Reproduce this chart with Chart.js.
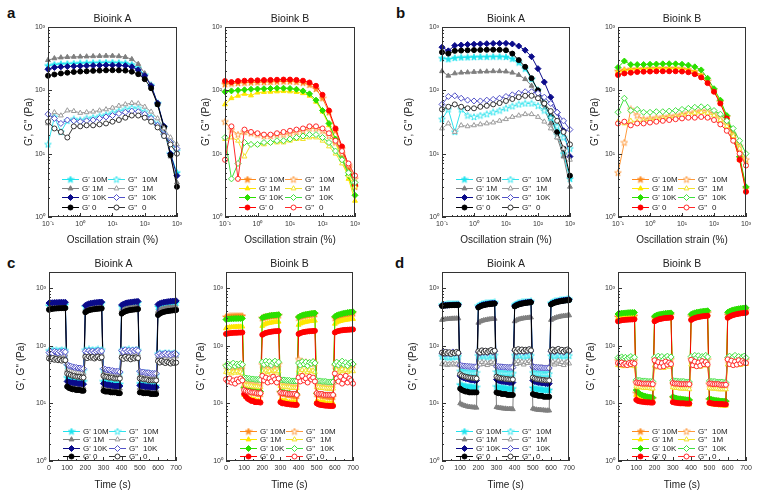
<!DOCTYPE html>
<html>
<head>
<meta charset="utf-8">
<script src="https://cdn.jsdelivr.net/npm/chart.js@4.4.0/dist/chart.umd.min.js"></script>
<style>
  body { margin: 0; background: #fff; width: 762px; height: 495px; position: relative; overflow: hidden;
         font-family: "Liberation Sans", Arial, sans-serif; color: #222; }
  canvas { position: absolute; }
  .letter { position: absolute; font-weight: bold; font-size: 15px; line-height: 15px; color: #111; }
  .ttl { position: absolute; font-size: 10.5px; line-height: 12px; text-align: center; width: 130px; color: #222; }
</style>
</head>
<body>
<div class="letter" style="left:7px;top:5px">a</div>
<div class="letter" style="left:396px;top:5px">b</div>
<div class="letter" style="left:7px;top:255px">c</div>
<div class="letter" style="left:395px;top:255px">d</div>
<script>
// ---- tick labels ----
const strainTickVals = [0.1, 1, 10, 100, 1000];
const strainTickLabels = ['10⁻¹', '10⁰', '10¹', '10²', '10³'];
const modTickVals = [1, 10, 100, 1000];
const modTickLabels = ['10⁰', '10¹', '10²', '10³'];
const timeTickVals = [0, 100, 200, 300, 400, 500, 600, 700];
const timeTickLabels = ['0', '100', '200', '300', '400', '500', '600', '700'];

const seriesNames = ['10M', '1M', '10K', '0'];

// ---- strain sweep (a, b) ----
const strainX = [0.1,0.158,0.251,0.398,0.631,1,1.58,2.51,3.98,6.31,10,15.8,25.1,39.8,63.1,100,158,251,398,631,1000];

const aA_Gp_10M  = [245,255,260,262,265,268,270,272,273,274,274,272,268,255,225,175,120,62,26,10,5];
const aA_Gp_1M   = [300,320,330,335,338,340,342,345,348,350,350,345,335,310,260,185,120,60,25,9,3.5];
const aA_Gp_10K  = [215,230,235,238,240,242,244,246,248,250,250,248,245,235,210,170,118,63,27,10,4.5];
const aA_Gp_0    = [170,178,185,190,195,198,200,203,205,207,208,207,205,197,180,150,108,60,26,9.5,3];
const aA_Gpp_10M = [14,38,22,33,35,34,36,37,39,41,44,47,50,53,52,46,38,29,20,15,11];
const aA_Gpp_1M  = [30,45,40,48,47,44,45,46,48,50,53,57,60,63,62,55,46,36,25,18,14];
const aA_Gpp_10K = [42,36,30,34,33,32,33,34,36,38,40,43,45,47,46,42,36,28,20,15,12];
const aA_Gpp_0   = [32,25,22,18,27,27,28,28,29,30,32,34,37,40,40,37,32,26,19,14,10];

const aB_Gp_10M  = [125,128,130,132,133,134,135,136,137,138,138,136,132,122,105,75,45,23,12,6,3];
const aB_Gp_1M   = [60,75,82,88,83,92,94,95,96,97,96,94,90,82,66,46,28,15,8,4,1.8];
const aB_Gp_10K  = [95,98,100,102,104,105,106,107,108,108,107,104,98,88,70,48,30,17,9,4.5,2.2];
const aB_Gp_0    = [140,135,140,142,143,144,145,146,147,148,148,146,142,133,118,85,48,25,13,6.5,3.2];
const aB_Gpp_10M = [32,24,20,22,21,20,19,19,20,20,21,22,23,25,25,23,19,15,10,6.5,4];
const aB_Gpp_1M  = [17,18,16,9,14,14,14,15,15,15,16,17,17,18,18,16,13,10,7,4.5,3];
const aB_Gpp_10K = [18,4,7,15,14,14,15,15,16,16,17,18,19,20,20,18,15,11,8,5,3.5];
const aB_Gpp_0   = [8,27,4,24,22,21,20,20,21,22,23,24,25,27,27,25,21,16,11,7,4.5];

const bA_Gp_10M  = [320,310,325,330,332,335,337,338,340,340,336,315,275,220,150,100,62,37,20,10,4];
const bA_Gp_1M   = [200,170,185,190,192,195,197,198,200,200,198,190,175,150,118,80,50,30,18,9,3];
const bA_Gp_10K  = [480,420,510,520,530,535,540,545,550,552,552,540,500,430,340,220,135,78,45,23,9];
const bA_Gp_0    = [400,380,420,425,430,432,435,437,438,436,430,380,300,235,155,100,62,38,22,12,4.5];
const bA_Gpp_10M = [35,50,22,50,40,38,40,42,45,48,52,56,60,62,62,57,48,37,27,18,12];
const bA_Gpp_1M  = [25,30,22,28,27,28,29,30,31,33,35,38,40,42,42,38,32,25,18,12,8];
const bA_Gpp_10K = [60,80,82,75,70,68,68,70,72,75,80,85,90,95,95,90,78,62,45,33,24];
const bA_Gpp_0   = [50,55,60,55,52,52,55,57,60,63,68,73,78,82,82,75,62,47,33,22,14];

const bB_Gp_10M  = [200,210,215,218,220,222,223,224,224,223,220,213,198,175,140,100,66,38,19,8.5,2.8];
const bB_Gp_1M   = [195,205,212,215,218,220,221,222,222,221,218,210,195,170,135,98,64,37,18,8,2.6];
const bB_Gp_10K  = [230,290,255,255,256,258,260,262,263,262,258,250,235,210,155,106,70,40,20,9,3];
const bB_Gp_0    = [175,185,190,195,197,198,200,200,200,200,198,193,180,160,130,95,62,36,18,8,2.5];
const bB_Gpp_10M = [5,15,50,40,35,36,37,38,39,40,42,44,46,48,47,43,37,29,20,13,8];
const bB_Gpp_1M  = [32,30,33,32,33,34,35,36,37,38,40,42,44,45,44,40,34,27,19,12,7];
const bB_Gpp_10K = [45,75,48,50,45,45,46,46,47,48,50,52,54,55,54,48,42,33,25,16,10];
const bB_Gpp_0   = [30,32,28,30,30,31,32,33,34,35,36,37,37,38,37,34,29,23,16,10,6.5];

// ---- time sweep (c, d) ----
const timeX = [0,10,20,30,40,50,60,70,80,90,100,110,120,130,140,150,160,170,180,190,200,210,220,230,240,250,260,270,280,290,300,310,320,330,340,350,360,370,380,390,400,410,420,430,440,450,460,470,480,490,500,510,520,530,540,550,560,570,580,590,600,610,620,630,640,650,660,670,680,690,700];

const cA_Gp_10M = [490,495,500,502,505,507,508,510,511,512, 28,27,26.5,26,25.5,25,25,24.5,24.5,24, 470,490,505,515,522,528,532,536,540,543, 24,23.5,23,22.5,22.5,22,22,21.5,21.5,21.5, 475,495,510,520,528,535,540,545,548,551, 22,21.5,21,21,20.5,20.5,20.5,20,20,20, 470,490,505,515,523,530,535,540,544,548,551];
const cA_Gp_1M  = [460,465,468,470,470,471,472,472,473,473, 21,20.5,20.5,20,20,19.5,19.5,19.5,19,19, 420,440,450,458,463,467,470,472,474,476, 19.5,19,19,18.5,18.5,18.5,18,18,18,18, 410,430,442,450,456,460,464,467,469,471, 18.5,18,18,18,17.5,17.5,17.5,17.5,17,17, 400,420,432,440,446,451,455,458,461,463,465];
const cA_Gp_10K = [550,555,558,560,562,563,565,566,567,568, 24,23.5,23,23,22.5,22.5,22,22,22,21.5, 500,520,535,545,552,558,562,566,570,573, 22,21.5,21,21,20.5,20.5,20,20,20,20, 510,530,545,555,563,570,575,580,584,588, 20.5,20,20,19.5,19.5,19.5,19,19,19,19, 520,540,555,565,573,580,585,590,594,597,600];
const cA_Gp_0   = [420,430,436,440,443,445,447,448,449,450, 19.5,18.5,18,17.5,17.5,17,17,17,16.5,16.5, 380,400,412,420,426,431,435,438,441,443, 16.5,16,16,16,15.5,15.5,15.5,15.5,15,15, 360,380,394,404,411,417,421,425,428,431, 15.5,15.5,15,15,15,15,14.5,14.5,14.5,14.5, 340,360,374,384,391,397,402,406,409,412,415];
const cA_Gpp_10M = [82,80,84,81,83,80,82,84,81,83, 45,43,42,41,40,39,39,38,38,37, 84,80,86,82,85,81,84,86,82,85, 38,37,36,36,35,35,34,34,34,33, 82,85,80,84,86,81,84,82,85,83, 35,34,34,33,33,32,32,32,31,31, 72,74,71,73,75,72,74,71,73,74,72];
const cA_Gpp_1M  = [70,68,71,69,72,68,70,71,69,70, 38,37,36,35,35,34,34,33,33,33, 72,69,73,70,72,68,71,73,70,72, 33,32,32,31,31,31,30,30,30,30, 70,73,68,71,74,69,72,70,73,71, 30,30,29,29,29,28,28,28,28,28, 65,67,64,66,68,65,67,64,66,67,65];
const cA_Gpp_10K = [76,79,74,80,77,75,79,76,80,78, 47,45,44,43,42,42,41,41,40,40, 80,76,82,78,81,77,80,83,79,81, 40,39,38,38,37,37,36,36,36,35, 82,78,85,80,83,79,84,81,85,82, 36,35,35,34,34,34,33,33,33,33, 70,73,69,72,74,70,73,69,72,73,71];
const cA_Gpp_0   = [60,58,61,57,59,56,58,55,57,56, 33,32,31,30,30,29,29,29,28,28, 64,61,65,62,64,60,63,65,61,63, 30,29,29,28,28,28,27,27,27,27, 62,59,64,60,63,58,62,60,63,61, 27,27,26,26,26,25,25,25,25,25, 54,51,55,52,50,53,51,49,52,50,51];

const cB_Gp_10M = [315,320,322,324,325,326,326,327,327,328, 18,17,16.5,16,15.5,15.5,15,15,14.5,14.5, 300,310,316,320,324,327,330,332,334,336, 15.5,15,14.5,14.5,14,14,14,13.5,13.5,13.5, 305,318,326,332,337,341,345,348,351,354, 14.5,14,14,13.5,13.5,13.5,13,13,13,13, 300,315,325,333,340,345,350,354,358,361,364];
const cB_Gp_1M  = [200,205,208,210,211,212,213,214,214,215, 14,13,12.5,12,12,11.5,11.5,11,11,11, 220,232,240,245,249,252,255,257,259,261, 11.5,11,11,11,10.5,10.5,10.5,10.5,10.5,10, 230,242,250,255,259,263,266,268,270,272, 11,10.5,10.5,10.5,10.5,10,10,10,10,10, 240,253,262,268,273,277,281,284,287,289,291];
const cB_Gp_10K = [285,290,292,294,295,296,296,297,297,298, 19,18,17.5,17,17,16.5,16.5,16,16,16, 305,315,322,328,332,336,339,341,343,345, 16,15.5,15.5,15,15,15,14.5,14.5,14.5,14.5, 315,328,337,344,349,354,358,362,365,368, 15,14.5,14.5,14.5,14,14,14,14,14,14, 320,335,345,353,360,366,371,376,380,384,387];
const cB_Gp_0   = [160,163,165,166,167,168,168,169,169,170, 14.5,13,12,11.5,11,11,10.5,10.5,10.5,10.3, 155,162,167,170,173,175,177,178,179,180, 10.5,10,10,9.8,9.7,9.6,9.5,9.5,9.4,9.4, 160,166,170,173,175,177,178,179,180,181, 10,9.6,9.4,9.3,9.2,9.1,9.1,9,9,9, 170,176,180,183,185,187,188,189,190,191,192];
const cB_Gpp_10M = [45,43,46,44,42,45,43,46,44,45, 24,23.5,23,23,22.5,22.5,22,22,22,22, 47,44,49,45,48,43,47,50,45,48, 23,22.5,22.5,22,22,22,21.5,21.5,21.5,21.5, 58,50,53,48,52,47,51,49,52,50, 22,22,21.5,21.5,21.5,21,21,21,21,21, 45,48,44,47,49,45,48,44,47,48,46];
const cB_Gpp_1M  = [35,34,36,33,35,34,36,34,35,33, 21,20.5,20.5,20,20,19.5,19.5,19.5,19,19, 36,34,37,35,36,33,36,37,34,36, 20,19.5,19.5,19,19,19,18.5,18.5,18.5,18.5, 37,35,38,34,37,35,38,36,37,35, 19,19,18.5,18.5,18.5,18,18,18,18,18, 36,38,35,37,39,36,38,35,37,38,36];
const cB_Gpp_10K = [45,48,43,47,50,44,48,46,49,47, 28,27.5,27,27,26.5,26.5,26,26,26,25.5, 52,47,54,49,53,46,51,54,48,52, 26,25.5,25.5,25,25,25,24.5,24.5,24.5,24.5, 50,46,53,48,52,45,51,49,53,50, 25,24.5,24.5,24,24,24,23.5,23.5,23.5,23.5, 48,52,46,50,54,47,51,45,50,52,48];
const cB_Gpp_0   = [26,24,27,23,25,22,26,24,27,25, 17,16.5,16,16,15.5,15.5,15.5,15,15,15, 30,25,28,23,27,24,29,26,23,27, 15.5,15,15,15,14.5,14.5,14.5,14.5,14.5,14, 28,24,30,25,27,23,29,26,28,24, 15,14.5,14.5,14.5,14,14,14,14,14,14, 33,27,24,29,22,26,30,23,27,25,22];

const dA_Gp_10M = [510,515,518,520,522,523,524,525,526,527, 21,20.5,20,20,19.5,19.5,19.5,19,19,19, 490,510,525,535,542,548,553,557,560,563, 19.5,19,19,18.5,18.5,18.5,18,18,18,18, 510,530,545,555,563,570,575,580,584,588, 18.5,18,18,17.5,17.5,17.5,17,17,17,17, 550,570,585,597,606,614,621,627,632,636,640];
const dA_Gp_1M  = [280,285,288,290,292,294,295,296,297,298, 10,9.5,9.2,9,8.8,8.7,8.6,8.5,8.5,8.4, 250,262,270,276,280,284,287,289,291,293, 8.6,8.4,8.3,8.2,8.1,8.1,8,8,8,7.9, 265,277,285,291,295,299,302,305,307,309, 8.1,7.9,7.8,7.7,7.7,7.6,7.6,7.5,7.5,7.5, 280,293,302,309,315,320,324,328,331,334,336];
const dA_Gp_10K = [495,500,503,505,507,508,510,511,512,513, 30,28.5,27.5,27,26.5,26,25.5,25.5,25,25, 470,490,505,515,523,530,535,540,544,548, 26,25,24.5,24,24,23.5,23.5,23,23,23, 490,510,525,536,545,553,560,566,571,575, 25,24,23.5,23,23,22.5,22.5,22,22,22, 530,550,566,578,588,597,605,612,618,623,628];
const dA_Gp_0   = [490,495,498,500,502,504,505,506,507,508, 18,17,16.5,16,16,15.5,15.5,15.5,15.5,15.5, 460,480,495,505,513,520,525,530,534,538, 15.5,15,15,14.5,14.5,14.5,14,14,14,14, 480,500,515,527,536,544,551,557,562,566, 14.5,14,14,13.5,13.5,13.5,13,13,13,13, 520,540,556,568,578,587,595,602,608,613,618];
const dA_Gpp_10M = [65,63,66,64,62,65,63,66,64,65, 36,35.5,35,35,34.5,34.5,34,34,34,34, 67,64,69,65,68,63,67,70,65,68, 35,34.5,34,34,34,33.5,33.5,33.5,33,33, 68,65,70,66,69,64,68,66,70,67, 34,33.5,33.5,33,33,33,32.5,32.5,32.5,32.5, 66,69,65,68,70,66,69,65,68,69,67];
const dA_Gpp_1M  = [48,47,49,46,48,47,49,47,48,46, 45,44.5,44,44,43.5,43.5,43,43,43,43, 50,47,52,48,51,46,50,52,48,51, 44,43.5,43.5,43,43,43,42.5,42.5,42.5,42.5, 52,48,54,50,53,47,52,50,54,51, 43,42.5,42.5,42,42,42,41.5,41.5,41.5,41.5, 49,53,47,51,55,48,52,46,51,53,49];
const dA_Gpp_10K = [74,77,72,76,73,75,78,74,76,73, 46,45,44.5,44,44,43.5,43.5,43,43,43, 78,74,81,76,80,75,79,82,77,80, 44,43.5,43,43,42.5,42.5,42,42,42,42, 82,77,85,79,84,78,83,80,85,81, 43,42.5,42,42,41.5,41.5,41,41,41,41, 80,84,78,82,86,79,83,77,82,84,80];
const dA_Gpp_0   = [76,73,78,74,77,72,76,74,78,75, 32,30.5,29.5,29,28.5,28,28,27.5,27.5,27, 80,76,83,78,82,77,81,84,79,82, 29,28,27.5,27,27,26.5,26.5,26,26,26, 84,79,87,81,86,80,85,82,87,83, 28,27,26.5,26,26,25.5,25.5,25,25,25, 82,86,80,84,88,81,85,79,84,86,82];

const dB_Gp_10M = [315,318,320,322,323,324,325,326,326,327, 15,14,13.5,13,13,12.5,12.5,12.5,12,12, 300,312,320,326,330,334,337,340,342,344, 12.5,12,12,11.5,11.5,11.5,11.5,11,11,11, 320,333,342,349,354,359,363,366,369,372, 11.5,11.5,11,11,11,11,10.5,10.5,10.5,10.5, 340,355,366,375,382,388,393,397,401,404,407];
const dB_Gp_1M  = [300,305,308,310,311,312,313,314,314,315, 14,13,12.5,12,11.5,11.5,11,11,11,11, 290,300,307,312,316,319,322,324,326,328, 11,10.5,10.5,10,10,10,9.8,9.7,9.6,9.5, 300,312,320,326,331,335,338,341,343,345, 10,9.8,9.6,9.5,9.4,9.3,9.2,9.2,9.1,9.1, 320,334,344,352,358,363,367,371,374,377,380];
const dB_Gp_10K = [355,362,366,369,371,373,375,376,377,378, 17,15.5,14.5,14,13.5,13.3,13,12.8,12.7,12.6, 325,337,345,351,356,360,364,367,369,371, 13,12.5,12.3,12,12,11.8,11.7,11.6,11.5,11.5, 350,363,372,379,385,390,394,398,401,404, 12,11.7,11.5,11.3,11.2,11.1,11,11,10.9,10.9, 380,396,408,418,426,433,439,444,448,452,455];
const dB_Gp_0   = [265,272,276,279,281,283,284,285,286,287, 11.5,11,10.8,10.7,10.6,10.5,10.4,10.4,10.3,10.3, 265,277,285,291,295,299,302,304,306,308, 10.5,10.3,10.2,10.1,10,10,10,9.9,9.9,9.9, 280,293,302,309,314,319,323,326,329,331, 10.2,10,9.9,9.8,9.8,9.7,9.7,9.7,9.6,9.6, 305,320,331,340,347,353,358,363,367,370,373];
const dB_Gpp_10M = [55,53,56,54,52,55,53,56,54,55, 23,22.5,22.5,22,22,22,22,21.5,21.5,21.5, 57,54,59,55,58,53,57,60,55,58, 22,22,21.5,21.5,21.5,21.5,21,21,21,21, 58,55,60,56,59,54,58,56,60,57, 21.5,21.5,21,21,21,21,21,20.5,20.5,20.5, 56,59,55,58,60,56,59,55,58,59,57];
const dB_Gpp_1M  = [46,45,47,44,46,45,47,45,46,44, 19.5,19,19,19,18.5,18.5,18.5,18.5,18,18, 45,42,47,43,46,41,45,47,43,46, 19,18.5,18.5,18.5,18,18,18,18,18,17.5, 47,44,49,45,48,43,47,45,49,46, 18.5,18,18,18,18,17.5,17.5,17.5,17.5,17.5, 47,50,46,49,51,47,50,46,49,50,48];
const dB_Gpp_10K = [62,60,64,61,63,59,62,65,61,63, 25.5,25,25,24.5,24.5,24.5,24,24,24,24, 63,59,66,61,65,58,63,66,60,64, 25,24.5,24.5,24,24,24,24,23.5,23.5,23.5, 65,60,68,62,67,59,65,63,68,64, 24.5,24,24,24,23.5,23.5,23.5,23.5,23,23, 62,66,60,64,68,61,65,59,64,66,62];
const dB_Gpp_0   = [50,48,51,47,49,46,50,48,51,49, 23,22.5,22.5,22,22,22,22,22,21.5,21.5, 56,45,52,43,50,44,53,47,51,48, 22.5,22,22,22,21.5,21.5,21.5,21.5,21.5,21.5, 57,46,53,44,51,45,54,48,52,47, 22,22,21.5,21.5,21.5,21.5,21,21,21,21, 58,48,55,46,53,47,56,49,54,51,50];

// ---- styles ----
const colorsA_Gp  = ['#1fe3ee', '#7f7f7f', '#0b0b8a', '#000000'];
const colorsA_Gpp = ['#30e4ee', '#9a9a9a', '#5252c8', '#333333'];
const colorsB_Gp  = ['#ff8a1e', '#ffe600', '#2bdf00', '#ff0000'];
const colorsB_Gpp = ['#ff9a3c', '#f2e22a', '#3fe03f', '#ff2a2a'];
const markerRadius = [3, 2.8, 3, 2.5];
const FONT = '"Liberation Sans", Arial, sans-serif';

function starImg(color, open) {
  const c = document.createElement('canvas');
  c.width = c.height = 8;
  const g = c.getContext('2d');
  g.beginPath();
  for (let k = 0; k < 10; k++) {
    const r = k % 2 ? 1.4 : 3.5;
    const a = -Math.PI / 2 + k * Math.PI / 5;
    g.lineTo(4 + r * Math.cos(a), 4.2 + r * Math.sin(a));
  }
  g.closePath();
  g.fillStyle = open ? '#fff' : color;
  g.fill();
  g.strokeStyle = color;
  g.lineWidth = 0.9;
  g.stroke();
  return c;
}

function markerFor(i, color, open) {
  if (i === 0) return starImg(color, open);
  return ['triangle', 'rectRot', 'circle'][i - 1];
}

// frame + inward ticks like the original plots
const frameTicks = {
  id: 'frameTicks',
  afterDraw(chart) {
    const { ctx, chartArea: a, scales: { x, y } } = chart;
    ctx.save();
    ctx.strokeStyle = '#333';
    ctx.lineWidth = 1;
    ctx.strokeRect(Math.round(a.left) + 0.5, Math.round(a.top) + 0.5,
                   Math.round(a.right - a.left) - 1, Math.round(a.bottom - a.top) - 1);
    const tick = (px, len, horiz) => {
      ctx.beginPath();
      if (horiz) { ctx.moveTo(Math.round(px) + 0.5, a.bottom); ctx.lineTo(Math.round(px) + 0.5, a.bottom - len); }
      else { ctx.moveTo(a.left, Math.round(px) + 0.5); ctx.lineTo(a.left + len, Math.round(px) + 0.5); }
      ctx.stroke();
    };
    const logTicks = (s, horiz) => {
      for (let k = Math.floor(Math.log10(s.min)); k <= Math.ceil(Math.log10(s.max)); k++) {
        for (let m = 1; m < 10; m++) {
          const v = m * Math.pow(10, k);
          if (v < s.min * 0.999 || v > s.max * 1.001) continue;
          tick(s.getPixelForValue(v), m === 1 ? 4 : 2, horiz);
        }
      }
    };
    if (x.type === 'logarithmic') logTicks(x, true);
    else for (let v = x.min; v <= x.max; v += 50) tick(x.getPixelForValue(v), v % 100 === 0 ? 4 : 2, true);
    logTicks(y, false);
    ctx.restore();
  }
};

// legend in two columns inside the plot
const insetLegend = {
  id: 'insetLegend',
  afterDraw(chart, args, opts) {
    const { ctx, chartArea: a } = chart;
    ctx.save();
    ctx.font = '8px ' + FONT;
    ctx.textBaseline = 'middle';
    chart.data.datasets.forEach((d, i) => {
      const col = i < 4 ? 0 : 1;
      const y = Math.round(a.bottom - opts.rows[i % 4]) + 0.5;
      const x0 = a.left + (col ? 60 : 14);
      ctx.strokeStyle = d.borderColor;
      ctx.lineWidth = 1;
      ctx.beginPath(); ctx.moveTo(x0, y); ctx.lineTo(x0 + 17, y); ctx.stroke();
      ctx.fillStyle = d.pointBackgroundColor;
      Chart.helpers.drawPoint(ctx, { pointStyle: d.pointStyle, radius: d.pointRadius, borderWidth: 1, rotation: 0 }, x0 + 8.5, y);
      ctx.fillStyle = '#222';
      ctx.fillText(col ? 'G"' : "G'", x0 + 20, y);
      ctx.fillText(seriesNames[i % 4], x0 + (col ? 34 : 30), y);
    });
    ctx.restore();
  }
};

const panels = [
  { L: 0,   T: 0,   W: 185, H: 250, PL: 48,  PT: 27,  PR: 177, PB: 217, YT: 29,  kind: 'strain', ink: 'A', title: 'Bioink A',
    gp: [aA_Gp_10M, aA_Gp_1M, aA_Gp_10K, aA_Gp_0], gpp: [aA_Gpp_10M, aA_Gpp_1M, aA_Gpp_10K, aA_Gpp_0] },
  { L: 185, T: 0,   W: 185, H: 250, PL: 225, PT: 27,  PR: 355, PB: 217, YT: 206, kind: 'strain', ink: 'B', title: 'Bioink B',
    gp: [aB_Gp_10M, aB_Gp_1M, aB_Gp_10K, aB_Gp_0], gpp: [aB_Gpp_10M, aB_Gpp_1M, aB_Gpp_10K, aB_Gpp_0] },
  { L: 380, T: 0,   W: 198, H: 250, PL: 442, PT: 27,  PR: 570, PB: 217, YT: 409, kind: 'strain', ink: 'A', title: 'Bioink A',
    gp: [bA_Gp_10M, bA_Gp_1M, bA_Gp_10K, bA_Gp_0], gpp: [bA_Gpp_10M, bA_Gpp_1M, bA_Gpp_10K, bA_Gpp_0] },
  { L: 578, T: 0,   W: 184, H: 250, PL: 618, PT: 27,  PR: 746, PB: 217, YT: 595, kind: 'strain', ink: 'B', title: 'Bioink B',
    gp: [bB_Gp_10M, bB_Gp_1M, bB_Gp_10K, bB_Gp_0], gpp: [bB_Gpp_10M, bB_Gpp_1M, bB_Gpp_10K, bB_Gpp_0] },
  { L: 0,   T: 250, W: 185, H: 245, PL: 49,  PT: 272, PR: 178, PB: 461, YT: 21,  kind: 'time', ink: 'A', title: 'Bioink A',
    gp: [cA_Gp_10M, cA_Gp_1M, cA_Gp_10K, cA_Gp_0], gpp: [cA_Gpp_10M, cA_Gpp_1M, cA_Gpp_10K, cA_Gpp_0] },
  { L: 185, T: 250, W: 185, H: 245, PL: 226, PT: 272, PR: 353, PB: 461, YT: 201, kind: 'time', ink: 'B', title: 'Bioink B',
    gp: [cB_Gp_10M, cB_Gp_1M, cB_Gp_10K, cB_Gp_0], gpp: [cB_Gpp_10M, cB_Gpp_1M, cB_Gpp_10K, cB_Gpp_0] },
  { L: 380, T: 250, W: 198, H: 245, PL: 442, PT: 272, PR: 570, PB: 461, YT: 413, kind: 'time', ink: 'A', title: 'Bioink A',
    gp: [dA_Gp_10M, dA_Gp_1M, dA_Gp_10K, dA_Gp_0], gpp: [dA_Gpp_10M, dA_Gpp_1M, dA_Gpp_10K, dA_Gpp_0] },
  { L: 578, T: 250, W: 184, H: 245, PL: 618, PT: 272, PR: 746, PB: 461, YT: 591, kind: 'time', ink: 'B', title: 'Bioink B',
    gp: [dB_Gp_10M, dB_Gp_1M, dB_Gp_10K, dB_Gp_0], gpp: [dB_Gpp_10M, dB_Gpp_1M, dB_Gpp_10K, dB_Gpp_0] },
];

function makeDatasets(p) {
  const xs = p.kind === 'strain' ? strainX : timeX;
  const cols = p.ink === 'A' ? [colorsA_Gp, colorsA_Gpp] : [colorsB_Gp, colorsB_Gpp];
  const sets = [];
  [p.gp, p.gpp].forEach((group, k) => {
    const open = k === 1;
    group.forEach((vals, i) => {
      const c = cols[k][i];
      sets.push({
        label: (open ? 'G"' : "G'") + ' ' + seriesNames[i],
        data: xs.map((x, j) => ({ x: x, y: vals[j] })),
        borderColor: c,
        borderWidth: 1,
        pointStyle: markerFor(i, c, open),
        pointRadius: markerRadius[i],
        pointBackgroundColor: open ? '#fff' : c,
        pointBorderColor: c,
        pointBorderWidth: 1,
        tension: 0,
        clip: false,
        order: -sets.length, // later series on top, as in the original
      });
    });
  });
  return sets;
}

panels.forEach(p => {
  const cv = document.createElement('canvas');
  cv.width = p.W; cv.height = p.H;
  cv.style.left = p.L + 'px'; cv.style.top = p.T + 'px';
  document.body.appendChild(cv);

  const t = document.createElement('div');
  t.className = 'ttl';
  t.textContent = p.title;
  t.style.left = ((p.PL + p.PR) / 2 - 65) + 'px';
  t.style.top = (p.T === 0 ? 12 : 257) + 'px';
  document.body.appendChild(t);

  const padL = p.YT - p.L - 10;
  const yW = p.PL - p.L - padL;
  const xH = p.T + p.H - p.PB;
  const isStrain = p.kind === 'strain';
  const xVals = isStrain ? strainTickVals : timeTickVals;
  const xLabels = isStrain ? strainTickLabels : timeTickLabels;
  const tickFont = { family: FONT, size: 7 };

  new Chart(cv.getContext('2d'), {
    type: 'line',
    data: { datasets: makeDatasets(p) },
    plugins: [frameTicks, insetLegend],
    options: {
      responsive: false,
      animation: false,
      layout: { padding: { left: padL, top: p.PT - p.T, right: p.L + p.W - p.PR, bottom: 0 } },
      plugins: {
        legend: { display: false },
        tooltip: { enabled: false },
        insetLegend: { rows: isStrain ? [38, 29, 20, 10.5] : [30, 22, 13.5, 5] },
      },
      scales: {
        x: {
          type: isStrain ? 'logarithmic' : 'linear',
          min: isStrain ? 0.1 : 0,
          max: isStrain ? 1000 : 700,
          grid: { display: false, drawTicks: false },
          border: { display: false },
          afterBuildTicks: s => { s.ticks = xVals.map(v => ({ value: v })); },
          ticks: { autoSkip: false, maxRotation: 0, padding: 3, color: '#333', font: tickFont,
                   callback: (v, i) => xLabels[i] },
          title: { display: true, text: isStrain ? 'Oscillation strain (%)' : 'Time (s)', color: '#222',
                   font: { family: FONT, size: 10 }, padding: { top: 0, bottom: 4 } },
          afterFit: s => { s.height = xH; },
        },
        y: {
          type: 'logarithmic',
          min: 1,
          max: isStrain ? 1000 : 1900,
          grid: { display: false, drawTicks: false },
          border: { display: false },
          afterBuildTicks: s => { s.ticks = modTickVals.map(v => ({ value: v })); },
          ticks: { autoSkip: false, padding: 3, color: '#333', font: tickFont,
                   callback: (v, i) => modTickLabels[i] },
          title: { display: true, text: 'G\', G" (Pa)', color: '#222',
                   font: { family: FONT, size: 10 }, padding: { top: 4, bottom: 0 } },
          afterFit: s => { s.width = yW; },
        },
      },
    },
  });
});
</script>
</body>
</html>
